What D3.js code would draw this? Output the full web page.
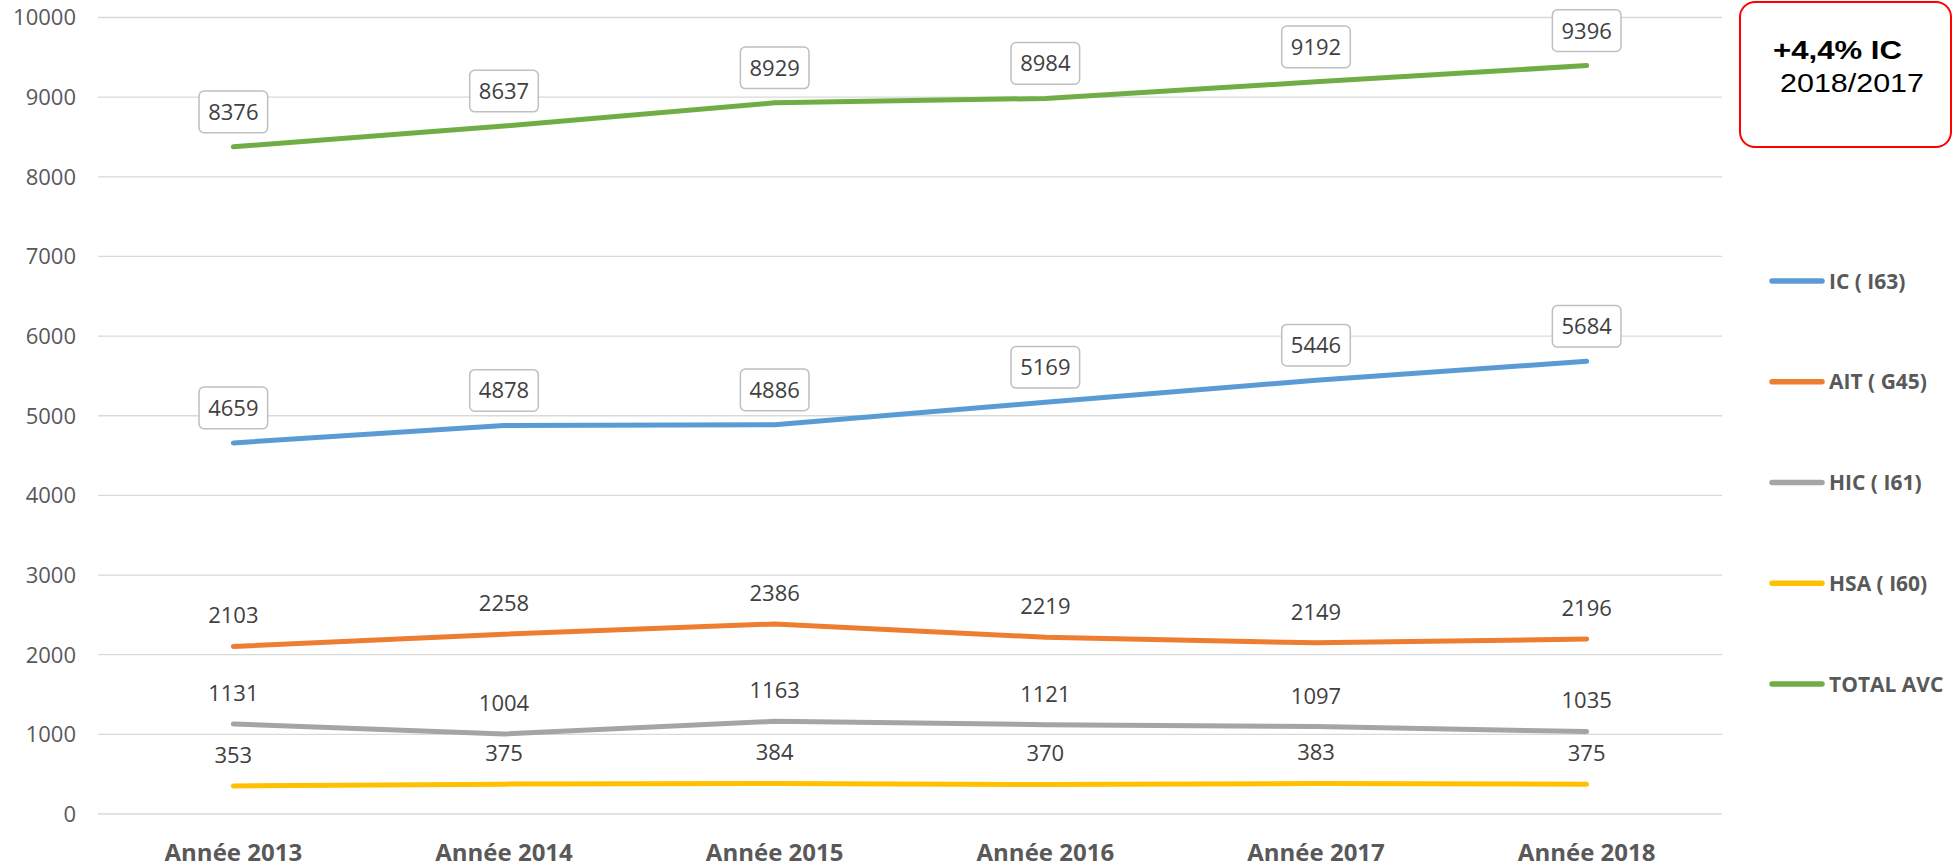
<!DOCTYPE html>
<html>
<head>
<meta charset="utf-8">
<script src="https://cdn.jsdelivr.net/npm/d3@7"></script>
<style>
    body { margin: 0; background: #fff; }
    svg { display: block; font-family: "Open Sans", sans-serif; }
</style>
</head>
<body>
<script>

// Data

var years = ['Année 2013', 'Année 2014', 'Année 2015', 'Année 2016', 'Année 2017', 'Année 2018'];
var seriesNames = ['IC ( I63)', 'AIT ( G45)', 'HIC ( I61)', 'HSA ( I60)', 'TOTAL AVC'];
var icValues = [4659, 4878, 4886, 5169, 5446, 5684];
var aitValues = [2103, 2258, 2386, 2219, 2149, 2196];
var hicValues = [1131, 1004, 1163, 1121, 1097, 1035];
var hsaValues = [353, 375, 384, 370, 383, 375];
var totalValues = [8376, 8637, 8929, 8984, 9192, 9396];
var yTicks = [0, 1000, 2000, 3000, 4000, 5000, 6000, 7000, 8000, 9000, 10000];
var noteLines = ['+4,4% IC', '2018/2017'];

var colors = ['#5b9bd5', '#ed7d31', '#a5a5a5', '#ffc000', '#70ad47'];
var boxed = [true, false, false, false, true];   // which series have framed labels

var series = [icValues, aitValues, hicValues, hsaValues, totalValues].map(function (v, i) {
    return { name: seriesNames[i], values: v, color: colors[i], boxed: boxed[i] };
});


// Layout (plot area edges)

var W = 1955, H = 868;
var plotL = 98, plotR = 1722, plotT = 17.5, plotB = 814;

var svg = d3.select('body').append('svg')
    .attr('width', W)
    .attr('height', H);

var x = d3.scalePoint().domain(years).range([plotL, plotR]).padding(0.5);
var y = d3.scaleLinear().domain([0, 10000]).range([plotB, plotT]);

// Gridlines
svg.append('g')
    .selectAll('line')
    .data(yTicks)
    .enter().append('line')
    .attr('x1', plotL)
    .attr('x2', plotR)
    .attr('y1', function (d) { return y(d); })
    .attr('y2', function (d) { return y(d); })
    .attr('stroke', '#d9d9d9')
    .attr('stroke-width', 1.3);

// Y axis labels
svg.append('g')
    .selectAll('text')
    .data(yTicks)
    .enter().append('text')
    .attr('x', 76)
    .attr('y', function (d) { return y(d); })
    .attr('dy', '0.36em')
    .attr('text-anchor', 'end')
    .attr('font-size', 22)
    .attr('fill', '#595959')
    .text(function (d) { return d; });

// X axis labels
svg.append('g')
    .selectAll('text')
    .data(years)
    .enter().append('text')
    .attr('x', function (d) { return x(d); })
    .attr('y', 861)
    .attr('text-anchor', 'middle')
    .attr('font-size', 24)
    .attr('font-weight', 'bold')
    .attr('fill', '#595959')
    .text(function (d) { return d; });

// Lines
var line = d3.line()
    .x(function (d, i) { return x(years[i]); })
    .y(function (d) { return y(d); });

svg.append('g')
    .selectAll('path')
    .data(series)
    .enter().append('path')
    .attr('d', function (d) { return line(d.values); })
    .attr('fill', 'none')
    .attr('stroke', function (d) { return d.color; })
    .attr('stroke-width', 5)
    .attr('stroke-linecap', 'round')
    .attr('stroke-linejoin', 'round');

// Data labels
var labels = svg.append('g');
series.forEach(function (s) {
    var g = labels.selectAll(null)
        .data(s.values)
        .enter().append('g')
        .attr('transform', function (d, i) {
            var off = s.boxed ? 35 : 31;
            return 'translate(' + x(years[i]) + ',' + (y(d) - off) + ')';
        });
    if (s.boxed) {
        g.append('rect')
            .attr('x', -34.3)
            .attr('y', -20.8)
            .attr('width', 68.6)
            .attr('height', 41.6)
            .attr('rx', 5)
            .attr('fill', '#fff')
            .attr('stroke', '#bfbfbf')
            .attr('stroke-width', 1.5);
    }
    g.append('text')
        .attr('text-anchor', 'middle')
        .attr('dy', '0.36em')
        .attr('font-size', 22)
        .attr('fill', '#404040')
        .text(function (d) { return d; });
});

// Legend
var ly = d3.scalePoint().domain(seriesNames).range([281, 684]);
var leg = svg.append('g')
    .selectAll('g')
    .data(series)
    .enter().append('g')
    .attr('transform', function (d) { return 'translate(0,' + ly(d.name) + ')'; });

leg.append('line')
    .attr('x1', 1772)
    .attr('x2', 1822)
    .attr('stroke', function (d) { return d.color; })
    .attr('stroke-width', 5.5)
    .attr('stroke-linecap', 'round');

leg.append('text')
    .attr('x', 1829)
    .attr('dy', '0.36em')
    .attr('font-size', 21)
    .attr('font-weight', 'bold')
    .attr('fill', '#595959')
    .text(function (d) { return d.name; });

// Annotation box
svg.append('rect')
    .attr('x', 1740)
    .attr('y', 2)
    .attr('width', 211)
    .attr('height', 145)
    .attr('rx', 15)
    .attr('fill', '#fff')
    .attr('stroke', '#ff0000')
    .attr('stroke-width', 2);

svg.append('text')
    .attr('x', 1773)
    .attr('y', 59)
    .attr('font-family', '"Liberation Sans", Arial, sans-serif')
    .attr('font-size', 25)
    .attr('font-weight', 'bold')
    .attr('fill', '#000')
    .attr('textLength', 129)
    .attr('lengthAdjust', 'spacingAndGlyphs')
    .text(noteLines[0]);

svg.append('text')
    .attr('x', 1780)
    .attr('y', 92)
    .attr('font-family', '"Liberation Sans", Arial, sans-serif')
    .attr('font-size', 25)
    .attr('fill', '#000')
    .attr('textLength', 144)
    .attr('lengthAdjust', 'spacingAndGlyphs')
    .text(noteLines[1]);

</script>
</body>
</html>
